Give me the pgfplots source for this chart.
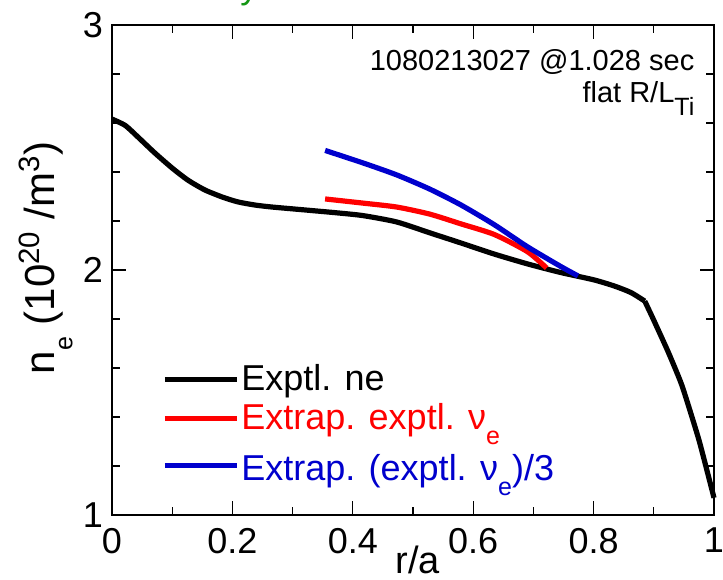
\documentclass[border=0pt]{standalone}
\usepackage{fontspec}
\setmainfont{Liberation Sans}
\usepackage{pgfplots}
\pgfplotsset{compat=1.18}
\definecolor{myred}{RGB}{255,0,0}
\definecolor{myblue}{RGB}{0,0,205}
\definecolor{mygreen}{RGB}{20,150,20}
\newcommand{\lsub}[1]{\raisebox{-0.42em}{\fontsize{12.5}{12.5}\selectfont #1}}
\begin{document}
\begin{tikzpicture}
\begin{axis}[
  name=ax,
  at={(0,0)}, anchor=south west,
  width=301pt, height=245pt, scale only axis,
  xmin=0, xmax=1, ymin=1, ymax=3,
  xtick={0,0.2,0.4,0.6,0.8,1},
  xticklabels={0,0.2,0.4,0.6,0.8,1},
  ytick={1,2,3},
  yticklabels={1,2,3},
  minor x tick num=1,
  minor y tick num=4,
  tick align=inside,
  major tick length=7pt,
  minor tick length=4pt,
  tick style={black, line width=0.6pt},
  axis line style={black, line width=1pt},
  /pgf/number format/assume math mode=true,
  ticklabel style={font=\fontsize{18}{18}\selectfont},
  xticklabel style={yshift=-3pt},
  yticklabel style={xshift=-1pt},
  xlabel={r/a},
  xlabel style={at={(rel axis cs:0.508,-0.12)}, anchor=base, font=\fontsize{19}{19}\selectfont},
  ylabel={n\lsub{e} (10\textsuperscript{20} /m\textsuperscript{3})},
  ylabel style={at={(rel axis cs:-0.11,0.525)}, anchor=center, font=\fontsize{21}{21}\selectfont},
  clip=false,
  legend style={draw=none, fill=none, at={(rel axis cs:0.083,0.312)}, anchor=north west,
    font=\fontsize{18}{18}\selectfont, row sep=3pt, inner sep=0pt,
    nodes={inner sep=1pt}},
  legend cell align=left,
  legend image code/.code={\draw[#1, line width=2.5pt] (0pt,0pt) -- (36pt,0pt);},
]
\addplot[black, line width=2.6pt, line join=round, smooth, tension=0.4] coordinates {
(0,2.616) (0.022,2.59) (0.043,2.543) (0.071,2.478) (0.1,2.416) (0.126,2.367)
(0.154,2.327) (0.183,2.298) (0.209,2.278) (0.238,2.265) (0.266,2.257)
(0.321,2.245) (0.375,2.233) (0.417,2.222) (0.473,2.196) (0.53,2.15)
(0.58,2.11) (0.635,2.065) (0.69,2.025) (0.745,1.99) (0.8,1.96)
(0.834,1.935) (0.862,1.908) (0.885,1.873)
};
\addlegendentry{Exptl. ne}
\addplot[forget plot, black, line width=2.6pt, line join=round, smooth, tension=0.3] coordinates {
(0.885,1.873) (0.899,1.80) (0.924,1.665)
(0.947,1.527) (0.975,1.306) (1.0,1.07)
};
\addplot[myred, line width=2.6pt, line join=round, smooth, tension=0.4,
  legend image code/.code={\path[draw=none, fill=none] (0pt,-4.95pt) (0pt,4.95pt);
    \draw[myred, line width=2.5pt] (0pt,2.8pt) -- (36pt,2.8pt);}] coordinates {
(0.354,2.29) (0.417,2.273) (0.473,2.257) (0.528,2.228) (0.58,2.188)
(0.635,2.145) (0.69,2.075) (0.722,2.008)
};
\addlegendentry[text depth=7.5pt]{\textcolor{myred}{Extrap. exptl. ν\lsub{e}}}
\addplot[myblue, line width=2.6pt, line join=round, smooth, tension=0.4,
  legend image code/.code={\path[draw=none, fill=none] (0pt,-3.25pt) (0pt,3.25pt);
    \draw[myblue, line width=2.5pt] (0pt,2pt) -- (36pt,2pt);}] coordinates {
(0.354,2.488) (0.417,2.437) (0.473,2.388) (0.528,2.33) (0.58,2.265)
(0.635,2.185) (0.69,2.095) (0.745,2.015) (0.774,1.976)
};
\addlegendentry{\textcolor{myblue}{Extrap. (exptl. ν\lsub{e})/3}}
\node[anchor=north east, align=right, font=\fontsize{14.5}{16}\selectfont, inner sep=0pt]
  at (rel axis cs:0.968,0.95) {1080213027 @1.028 sec\\flat R/L\lsub{Ti}};
\node[anchor=base, text=mygreen, font=\fontsize{18}{18}\selectfont, inner sep=0pt]
  at (rel axis cs:0.228,1.055) {y};
\end{axis}
\pgfresetboundingbox
\path[use as bounding box] ([shift={(-56pt,-32pt)}]ax.south west) rectangle ([shift={(4.5pt,12.5pt)}]ax.north east);
\end{tikzpicture}
\end{document}
